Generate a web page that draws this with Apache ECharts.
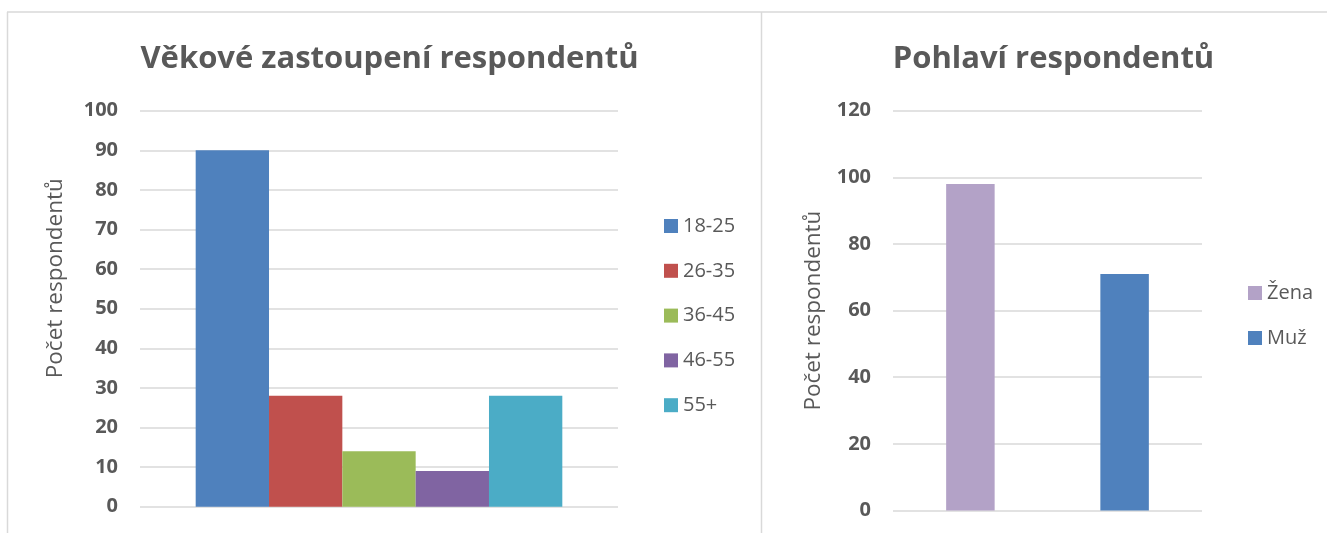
<!DOCTYPE html>
<html>
<head>
<meta charset="utf-8">
<script src="https://cdn.jsdelivr.net/npm/echarts@6/dist/echarts.min.js"></script>
<style>
html,body{margin:0;padding:0;background:#fff;}
#c{width:1327px;height:533px;}
</style>
</head>
<body>
<div id="c"></div>
<script>
// ---- data ----
const ageTitle = 'Věkové zastoupení respondentů';
const ageGroups = ['18-25', '26-35', '36-45', '46-55', '55+'];
const ageValues = [90, 28, 14, 9, 28];
const ageColors = ['#4F81BD', '#C0504D', '#9BBB59', '#8064A2', '#4BACC6'];

const genderTitle = 'Pohlaví respondentů';
const genders = ['Žena', 'Muž'];
const genderValues = [98, 71];
const genderColors = ['#B3A2C7', '#4F81BD'];

const yAxisName = 'Počet respondentů';

// ---- chart ----
const FONT = '"Open Sans", sans-serif';
const TXT = '#595959';
const GRIDC = '#D9D9D9';

const chart = echarts.init(document.getElementById('c'), null, {renderer: 'canvas'});

const series = [];
ageGroups.forEach((g, i) => {
  series.push({
    name: g, type: 'bar', xAxisIndex: 0, yAxisIndex: 0,
    data: [ageValues[i]],
    barGap: '0%', barCategoryGap: '23.3%',
    itemStyle: {color: ageColors[i]},
    emphasis: {disabled: true}
  });
});
genders.forEach((g, i) => {
  series.push({
    name: g, type: 'bar', xAxisIndex: 1, yAxisIndex: 1,
    data: [genderValues[i]],
    barGap: '218%', barCategoryGap: '34.4%',
    itemStyle: {color: genderColors[i]},
    emphasis: {disabled: true}
  });
});

function yAxis(gridIndex, max, interval, gap, padLeft) {
  return {
    type: 'value', gridIndex, min: 0, max, interval,
    axisLine: {show: false}, axisTick: {show: false},
    axisLabel: {color: TXT, fontFamily: FONT, fontWeight: 'bold', fontSize: 20, margin: 22},
    splitLine: {lineStyle: {color: GRIDC, width: 1.5}},
    name: yAxisName, nameLocation: 'middle', nameGap: gap,
    nameTextStyle: {color: TXT, fontFamily: FONT, fontSize: 22.5, padding: [0, 0, 0, padLeft]}
  };
}
function xAxis(gridIndex) {
  return {
    type: 'category', gridIndex, data: [''],
    axisLine: {show: false}, axisTick: {show: false}, axisLabel: {show: false},
    splitLine: {show: false}
  };
}

const legendText = {color: TXT, fontFamily: FONT, fontSize: 20, lineHeight: 20};

chart.setOption({
  animation: false,
  backgroundColor: '#fff',
  title: [
    {text: ageTitle, left: 384.5, top: 39, textAlign: 'center',
     textStyle: {color: TXT, fontFamily: FONT, fontWeight: 'bold', fontSize: 31}},
    {text: genderTitle, left: 1048.5, top: 39, textAlign: 'center',
     textStyle: {color: TXT, fontFamily: FONT, fontWeight: 'bold', fontSize: 31}}
  ],
  legend: [
    {data: ageGroups, orient: 'vertical', left: 659, top: 211,
     itemWidth: 14, itemHeight: 14, itemGap: 24.8, icon: 'rect',
     textStyle: legendText, selectedMode: false},
    {data: genders, orient: 'vertical', left: 1243, top: 278,
     itemWidth: 14, itemHeight: 14, itemGap: 25, icon: 'rect',
     textStyle: legendText, selectedMode: false}
  ],
  grid: [
    {left: 140, right: 1327 - 618, top: 110.7, bottom: 533 - 506.7},
    {left: 893, right: 1327 - 1202, top: 110.7, bottom: 533 - 510.5}
  ],
  xAxis: [xAxis(0), xAxis(1)],
  yAxis: [yAxis(0, 100, 10, 73, 61), yAxis(1, 120, 20, 68, 0)],
  series,
  graphic: [
    {type: 'line', shape: {x1: 7, y1: 12, x2: 1327, y2: 12}, style: {stroke: GRIDC, lineWidth: 1.5}, silent: true},
    {type: 'line', shape: {x1: 7.5, y1: 12, x2: 7.5, y2: 533}, style: {stroke: GRIDC, lineWidth: 1.5}, silent: true},
    {type: 'line', shape: {x1: 761.5, y1: 12, x2: 761.5, y2: 533}, style: {stroke: GRIDC, lineWidth: 1.5}, silent: true}
  ]
});
</script>
</body>
</html>
